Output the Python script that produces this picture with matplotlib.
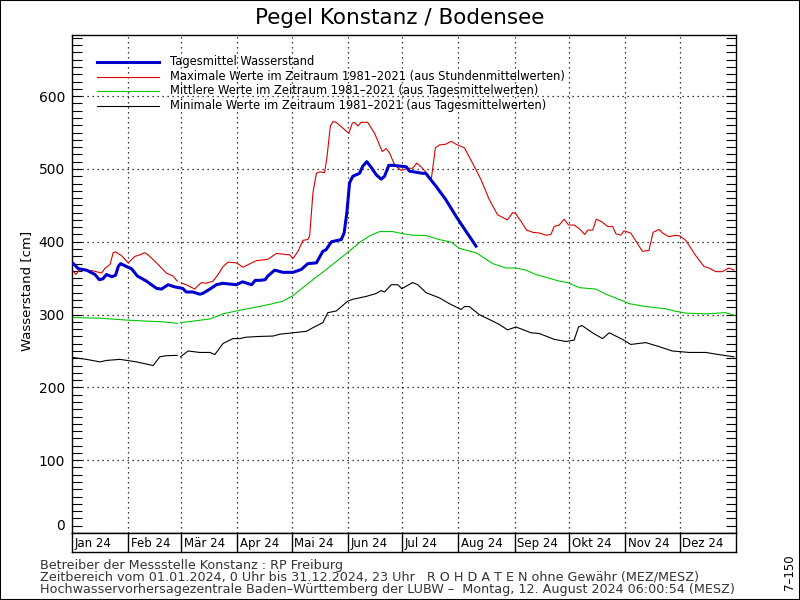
import matplotlib.pyplot as plt
import numpy as np
from matplotlib.lines import Line2D
from matplotlib.patches import Rectangle

plt.rcParams['font.family'] = ['DejaVu Sans']
nan = np.nan

tagesmittel = [(0.7, 370), (3.5, 363), (8, 361), (12.7, 355), (15, 348), (17, 349), (19, 355), (22, 352),
               (24, 354), (25.5, 366), (26.8, 370), (30, 366), (32.8, 363), (36, 353), (41, 346), (46.6, 336),
               (49.3, 335), (53, 341), (56.7, 338), (61, 336), (63, 331), (66.6, 331), (70.4, 328), (72, 329),
               (76, 335), (79.6, 341), (83, 343), (90.6, 341), (94, 345), (99, 341), (101, 347), (103.7, 347),
               (106.5, 348), (108, 353), (111.7, 361), (116.3, 358), (121.8, 358), (126.4, 362), (130, 370),
               (134.7, 371), (138.3, 387), (140, 389), (143, 400), (148.4, 403), (150, 412), (151.5, 440),
               (153, 481), (154.8, 490), (158.5, 494), (160.3, 504), (162.5, 510), (165, 502), (167.7, 492),
               (170.4, 486), (172.3, 490), (174.6, 505), (176.8, 505), (184.2, 503), (186, 497), (193.3, 494),
               (195, 494), (200.7, 476), (206, 458), (211.7, 435), (217, 415), (222.7, 394)]

maximum = [(0.7, 360), (2, 355), (4.4, 362), (11.7, 360), (16.3, 357), (18, 363), (21, 369), (22.7, 385),
           (24, 386), (27.3, 381), (31, 371), (34.7, 380), (37.4, 382), (40, 385), (42, 382), (46.6, 371),
           (52, 357), (55.7, 353), (58, 346), (59, nan), (60.4, 343), (63, 341), (67.7, 335), (69.5, 340),
           (71.4, 344), (74, 343), (77.8, 346), (80.5, 355), (83.3, 366), (86, 372), (90.6, 371), (94.3, 365),
           (99, 371), (101.6, 374), (108, 376), (112.7, 384), (120, 382), (121.8, 377), (124.6, 387),
           (127.3, 402), (130, 403), (131, 408), (132.8, 467), (134.7, 494), (136.5, 496), (139.2, 495),
           (140.5, 515), (142.4, 559), (143.8, 565), (145.6, 564), (152.6, 549), (154.5, 563), (155.8, 564),
           (157.6, 559), (159.4, 564), (163, 564), (166.8, 549), (171, 524), (173.2, 528), (175, 522),
           (177.8, 506), (181.4, 498), (185, 501), (187.8, 501), (190, 508), (192.4, 503), (195.2, 495),
           (198, 485), (200.3, 529), (202.5, 533), (206, 534), (209, 538), (211.7, 534), (216.3, 529),
           (222.7, 499), (225.5, 485), (230, 458), (234.6, 437), (240, 430), (242.9, 440), (244.5, 439),
           (247.5, 428), (250.6, 416), (254, 413), (257.6, 412), (261.2, 409), (264, 410), (265.8, 421),
           (268.5, 423), (271.3, 431), (273.7, 423), (276.8, 423), (279.6, 418), (282.7, 410), (284.2, 416),
           (287, 416), (289, 431), (292.3, 427), (295.2, 421), (298, 421), (299.8, 411), (302.5, 409),
           (304.3, 415), (308, 412), (310.8, 401), (314.4, 387), (318, 388), (320.3, 413), (323.6, 417),
           (325.5, 412), (329, 407), (332.8, 409), (335, 408), (338.3, 402), (343.8, 381), (348.4, 366),
           (351.1, 364), (354.8, 359), (358.5, 359), (362.1, 364), (364.9, 361)]

mittel = [(0.7, 296), (15.4, 295), (30, 292.5), (41, 291), (50.3, 290), (58, 288), (59, nan), (59.8, 289),
          (66.8, 291), (76, 294), (83.3, 301), (90.6, 305), (99.8, 309.5), (109, 314), (116.3, 318.5),
          (121.8, 326), (127.3, 337), (132.8, 348), (140.2, 362), (149.3, 380), (158.5, 399), (164, 408),
          (169.5, 414), (176.8, 414), (182.3, 411), (187.8, 409), (195.2, 408.6), (202.5, 403), (209, 399.5),
          (213.5, 391), (222.7, 385), (231.9, 370), (239.2, 364), (244.7, 364), (250.2, 361), (255.7, 355),
          (263, 350), (268.5, 346), (273.2, 344), (279.6, 337), (288.8, 335), (294.3, 328), (302.5, 320),
          (307.1, 315), (316.3, 311), (327.3, 308), (331.9, 305), (338.3, 302), (349.3, 301), (360.3, 302.6),
          (364.9, 299)]

minimum = [(0.7, 241), (8, 238.5), (15.4, 235), (19, 237), (26.4, 238.5), (35.6, 235), (44.7, 230),
           (48.4, 242), (52, 243.5), (58, 244), (59, nan), (59.8, 242), (64, 250), (70.4, 248), (76, 248),
           (78.7, 245), (83.3, 260.5), (88.8, 267), (92.5, 267), (96.1, 269), (103.5, 270), (110.8, 270.5),
           (114.5, 273), (121.8, 275), (129.2, 277), (132.8, 282), (138.3, 289), (141, 302.6), (145.7, 305),
           (152, 318.5), (154.8, 321), (162.2, 325), (167.7, 329), (170.4, 333), (172.3, 331), (176, 341),
           (179.6, 341), (181.8, 335.5), (184.2, 339), (187.8, 344), (190.6, 341), (195.2, 330), (202.5, 323),
           (208, 315), (214.5, 307), (216.3, 311), (219, 311), (224.5, 300), (231.9, 291), (235.5, 286.5),
           (240.1, 279), (244.7, 283), (253, 275), (257.6, 274), (265.8, 266), (272.3, 263), (276.8, 265),
           (279.2, 283), (281.1, 285), (286.9, 275), (292.4, 267), (296.1, 275), (303.4, 266), (308, 259),
           (316.3, 261.5), (323.6, 256), (330.9, 250), (340.1, 248), (349.3, 248), (356.6, 245), (364.9, 242)]

monat_start = [0, 31, 60, 91, 121, 152, 182, 213, 244, 274, 305, 335]
monat_label = ['Jan 24', 'Feb 24', 'Mär 24', 'Apr 24', 'Mai 24', 'Jun 24',
               'Jul 24', 'Aug 24', 'Sep 24', 'Okt 24', 'Nov 24', 'Dez 24']

serien = [
    (tagesmittel, '#0000cc', 2.2, 'Tagesmittel Wasserstand'),
    (maximum, '#dd0000', 0.8, 'Maximale Werte im Zeitraum 1981–2021 (aus Stundenmittelwerten)'),
    (mittel, '#00c800', 0.8, 'Mittlere Werte im Zeitraum 1981–2021 (aus Tagesmittelwerten)'),
    (minimum, '#000000', 0.8, 'Minimale Werte im Zeitraum 1981–2021 (aus Tagesmittelwerten)'),
]

W, H = 800, 600
fig = plt.figure(figsize=(8, 6), dpi=100)

ax = fig.add_axes([72 / W, 1 - 533 / H, 664 / W, 498 / H])
for daten, farbe, lw, name in serien[::-1]:
    d = np.array(daten, dtype=float)
    ax.plot(d[:, 0], d[:, 1], color=farbe, lw=lw, zorder=3)

ax.set_xlim(0, 366)
ax.set_ylim(0, 684)
ax.set_xticks(monat_start[1:])
ax.tick_params(axis='x', length=0, labelbottom=False)
ax.set_yticks(range(0, 700, 100))
ax.set_yticks(range(0, 690, 10), minor=True)
ax.tick_params(axis='y', which='both', direction='in', length=7.5, width=0.8,
               left=True, right=True, labelsize=10, pad=5)
ax.get_yticklabels()[0].set_va('bottom')
ax.grid(True, which='major', color='black', lw=0.9, linestyle=(0, (1, 3)))
for s in ax.spines.values():
    s.set_linewidth(1)

# Monatsleiste
ax2 = fig.add_axes([72 / W, 1 - 552 / H, 664 / W, 19 / H])
ax2.set_xlim(0, 366)
ax2.set_ylim(0, 1)
ax2.set_xticks([])
ax2.set_yticks([])
for s in ax2.spines.values():
    s.set_linewidth(1)
for m, lab in zip(monat_start, monat_label):
    if m > 0:
        ax2.axvline(m, color='black', lw=1)
    ax2.text(m + 1.5, 0.45, lab, fontsize=8.5, va='center', ha='left')

# Legende
for i, (daten, farbe, lw, name) in enumerate(serien):
    y = 1 - (62 + i * 14.5) / H
    fig.add_artist(Line2D([97 / W, 159 / W], [y, y], color=farbe, lw=lw))
    fig.text(170 / W, y, name, fontsize=8.3, va='center', ha='left')

fig.text(0.5, 1 - 18 / H, 'Pegel Konstanz / Bodensee', fontsize=15.5, ha='center', va='center')
fig.text(27 / W, 1 - 291 / H, 'Wasserstand [cm]', fontsize=9.5, rotation=90, ha='center', va='center')

fig.text(40 / W, 1 - 565 / H, 'Betreiber der Messstelle Konstanz : RP Freiburg',
         fontsize=9.2, va='center', color='#333333')
fig.text(40 / W, 1 - 577 / H,
         'Zeitbereich vom 01.01.2024, 0 Uhr bis 31.12.2024, 23 Uhr   R O H D A T E N ohne Gewähr (MEZ/MESZ)',
         fontsize=9.2, va='center', color='#333333')
fig.text(40 / W, 1 - 589 / H,
         'Hochwasservorhersagezentrale Baden–Württemberg der LUBW –  Montag, 12. August 2024 06:00:54 (MESZ)',
         fontsize=9.2, va='center', color='#333333')
fig.text(790 / W, 1 - 572 / H, '7–150', fontsize=8.5, rotation=90, ha='center', va='center')

fig.add_artist(Rectangle((0, 0), 1, 1, transform=fig.transFigure, fill=False,
                         edgecolor='black', lw=1.5))

fig.savefig('out.png', dpi=100)
